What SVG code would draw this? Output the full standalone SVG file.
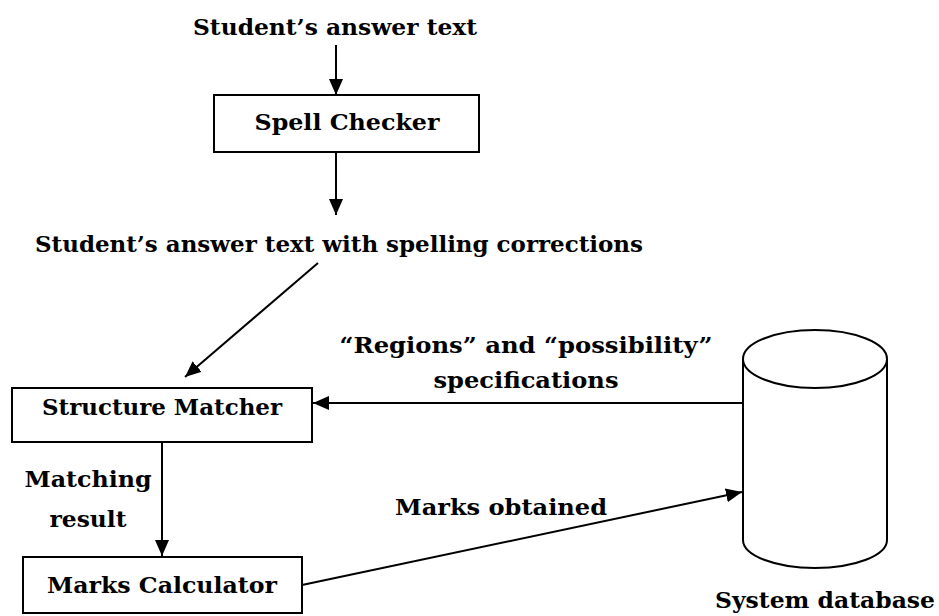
<svg xmlns="http://www.w3.org/2000/svg" width="939" height="616" viewBox="0 0 939 616">
  <style>
    text { font-family: "DejaVu Serif", "Liberation Serif", serif; font-weight: bold; font-size: 22px; fill: #000; text-anchor: middle; }
    .box { fill: #fff; stroke: #000; stroke-width: 2; }
    .db { fill: #fff; stroke: #000; stroke-width: 2; }
    .edge { fill: none; stroke: #000; stroke-width: 2; }
  </style>
  <defs>
    <marker id="arrow" markerUnits="userSpaceOnUse" markerWidth="16" markerHeight="14" refX="16" refY="7" orient="auto">
      <path d="M0,0 L16,7 L0,14 z" fill="#000"/>
    </marker>
  </defs>
  <rect width="939" height="616" fill="#fff"/>

  <g id="connectors">
    <line class="edge" x1="336" y1="45" x2="336" y2="95" marker-end="url(#arrow)"/>
    <line class="edge" x1="336" y1="152" x2="336" y2="215" marker-end="url(#arrow)"/>
    <line class="edge" x1="318" y1="263" x2="185" y2="377" marker-end="url(#arrow)"/>
    <line class="edge" x1="743" y1="403" x2="313" y2="403" marker-end="url(#arrow)"/>
    <line class="edge" x1="162" y1="442" x2="162" y2="556" marker-end="url(#arrow)"/>
    <line class="edge" x1="302" y1="585" x2="742" y2="492" marker-end="url(#arrow)"/>
  </g>

  <g id="input-text">
    <text x="335" y="35" textLength="284" lengthAdjust="spacingAndGlyphs">Student’s answer text</text>
  </g>

  <g id="spell-checker">
    <rect class="box" x="214" y="95" width="265" height="57"/>
    <text x="347" y="130" textLength="185" lengthAdjust="spacingAndGlyphs">Spell Checker</text>
  </g>

  <g id="corrected-text">
    <text x="339" y="252" textLength="608" lengthAdjust="spacingAndGlyphs">Student’s answer text with spelling corrections</text>
  </g>

  <g id="structure-matcher">
    <rect class="box" x="12" y="388" width="300" height="54"/>
    <text x="162" y="415" textLength="240" lengthAdjust="spacingAndGlyphs">Structure Matcher</text>
  </g>

  <g id="marks-calculator">
    <rect class="box" x="23" y="557" width="279" height="56"/>
    <text x="162" y="593" textLength="230" lengthAdjust="spacingAndGlyphs">Marks Calculator</text>
  </g>

  <g id="system-database">
    <path class="db" d="M743,359 L743,540 A72,28 0 0 0 887,540 L887,359"/>
    <ellipse class="db" cx="815" cy="359" rx="72" ry="29"/>
    <text x="825" y="608" textLength="220" lengthAdjust="spacingAndGlyphs">System database</text>
  </g>

  <g id="labels">
    <text x="526" y="353" textLength="373" lengthAdjust="spacingAndGlyphs">“Regions” and “possibility”</text>
    <text x="526" y="388" textLength="185" lengthAdjust="spacingAndGlyphs">specifications</text>
    <text x="88" y="487" textLength="127" lengthAdjust="spacingAndGlyphs">Matching</text>
    <text x="88" y="527" textLength="77" lengthAdjust="spacingAndGlyphs">result</text>
    <text x="501" y="515" textLength="212" lengthAdjust="spacingAndGlyphs">Marks obtained</text>
  </g>
</svg>
